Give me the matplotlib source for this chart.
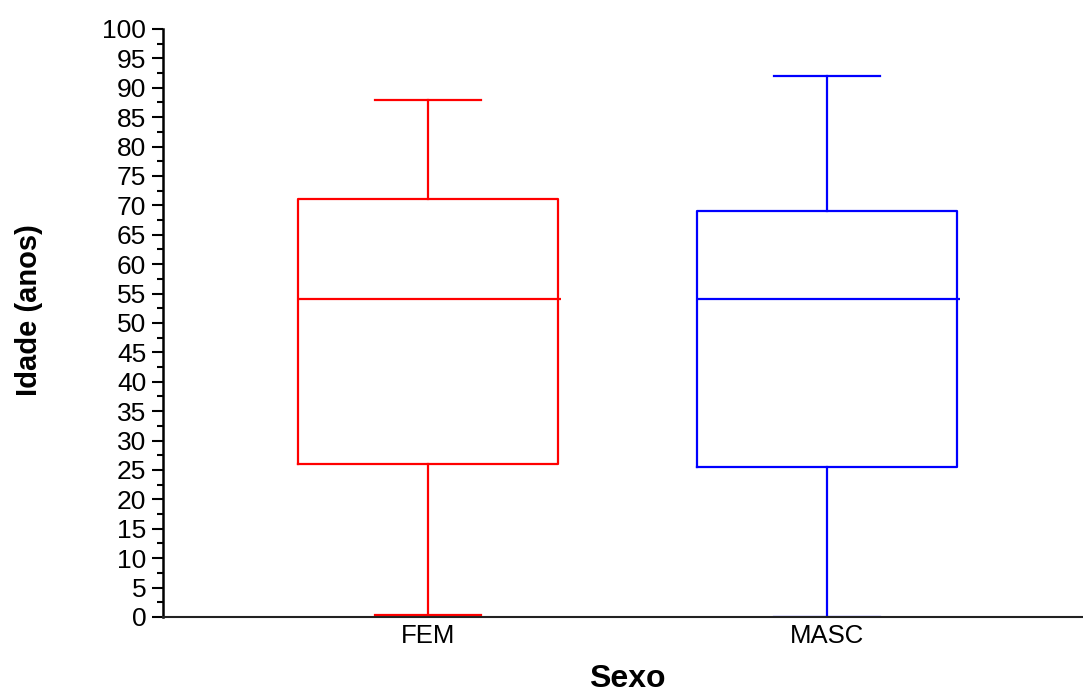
import matplotlib
matplotlib.use("Agg")
import matplotlib.pyplot as plt
from matplotlib.ticker import MultipleLocator

plt.rcParams['font.family'] = ['Liberation Sans', 'DejaVu Sans']

categories = ["FEM", "MASC"]
whislo = [0.4, 0.0]
q1 = [26.0, 25.5]
med = [54.0, 54.0]
q3 = [71.0, 69.0]
whishi = [88.0, 92.0]
colors = ["#ff0000", "#0000ff"]

fig = plt.figure(figsize=(10.83, 6.93), dpi=100)
ax = fig.add_axes([0.1505, 0.1097, 0.8495, 0.8485])

stats = []
for i, c in enumerate(categories):
    stats.append(dict(label=c, whislo=whislo[i], q1=q1[i], med=med[i],
                      q3=q3[i], whishi=whishi[i], fliers=[]))

for i, s in enumerate(stats):
    col = colors[i]
    res = ax.bxp([s], positions=[i + 1], widths=0.652, showfliers=False,
                 capwidths=0.265,
                 boxprops=dict(color=col, linewidth=1.6),
                 whiskerprops=dict(color=col, linewidth=1.6),
                 capprops=dict(color=col, linewidth=1.6),
                 medianprops=dict(color=col, linewidth=1.6))
    for m in res['medians']:
        xd = m.get_xdata()
        m.set_xdata([xd[0], xd[1] + 0.008])

ax.set_xlim(0.336, 2.642)
ax.set_ylim(0, 100)
ax.yaxis.set_major_locator(MultipleLocator(5))
ax.yaxis.set_minor_locator(MultipleLocator(2.5))
ax.tick_params(axis='y', which='major', length=8, width=1.5, labelsize=19, pad=4)
ax.tick_params(axis='y', which='minor', length=4.5, width=1.5)
ax.tick_params(axis='x', length=0, labelsize=18.5, pad=5)
ax.set_xticks([1, 2])
ax.set_xticklabels(categories)

for sp in ['top', 'right']:
    ax.spines[sp].set_visible(False)
ax.spines['left'].set_linewidth(1.8)
ax.spines['bottom'].set_linewidth(1.5)
ax.spines['bottom'].set_color('#222222')

ax.set_xlabel("Sexo", fontsize=23, fontweight='bold')
ax.set_ylabel("Idade (anos)", fontsize=21, fontweight='bold')
ax.xaxis.set_label_coords(0.505, -0.080)
ax.yaxis.set_label_coords(-0.130, 0.522)

fig.savefig("out.png", dpi=100)
